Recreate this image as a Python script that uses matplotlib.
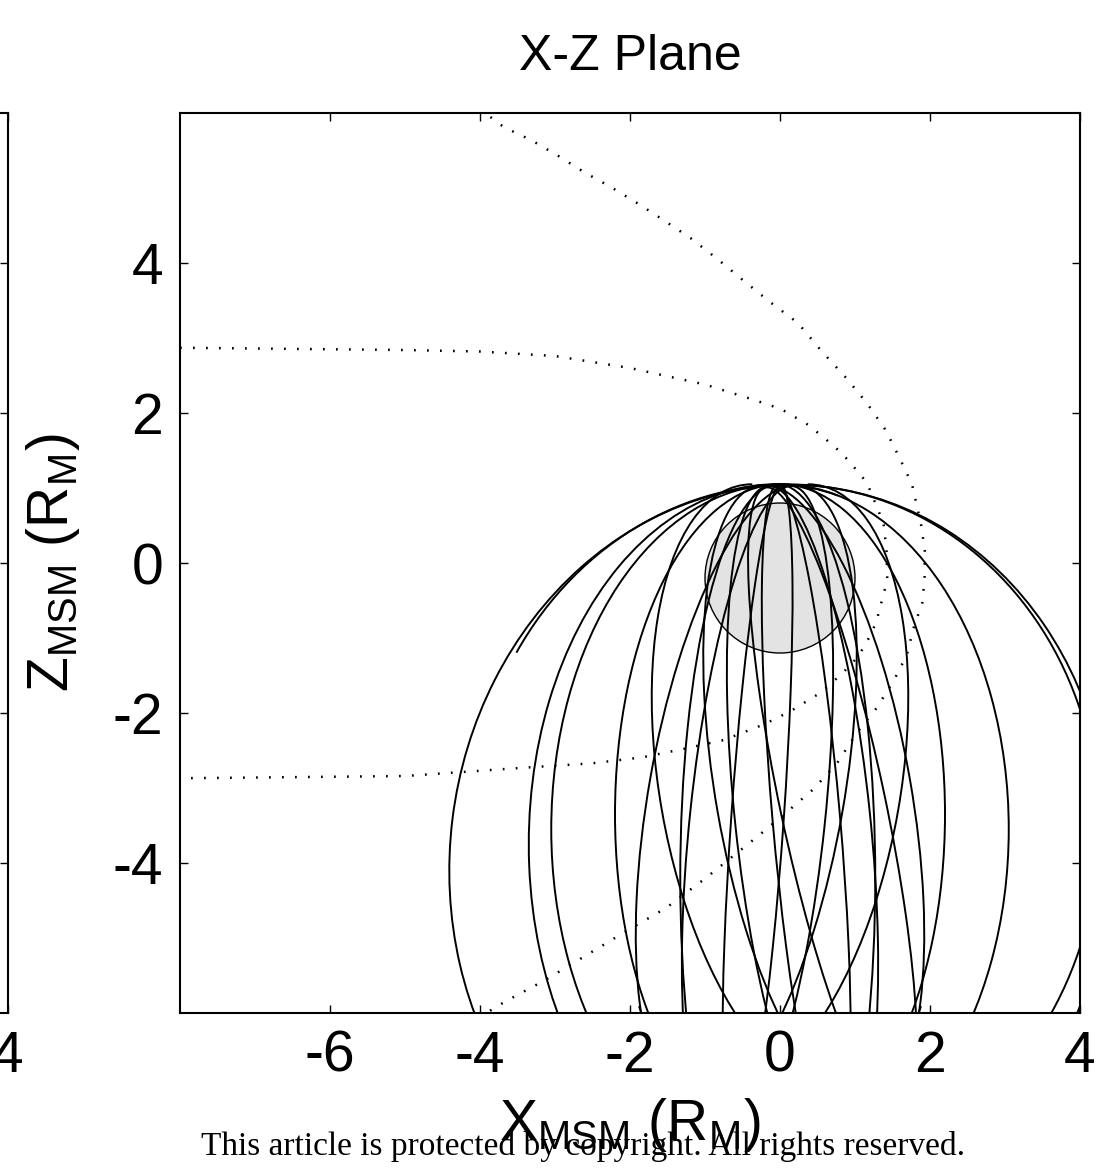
import matplotlib
matplotlib.use("Agg")
from matplotlib import pyplot as plt
from matplotlib.patches import Arc, Circle

plt.rcParams['font.family'] = ['Liberation Sans', 'DejaVu Sans']
plt.rcParams['mathtext.fontset'] = 'custom'
plt.rcParams['mathtext.rm'] = 'Liberation Sans'
plt.rcParams['mathtext.it'] = 'Liberation Sans'
plt.rcParams['axes.unicode_minus'] = False

# spacecraft orbits projected on X-Z (centre x, centre z, width, height, tilt deg, drawn part deg)
orbit_xc = [0.00, 0.05, -0.05, 0.00, -0.03, 0.20, -0.20, 0.00, 0.45, -0.45, 0.30, -0.30, 0.35, -0.30, 0.70]
orbit_zc = [-3.95, -3.60, -3.75, -3.55, -4.20, -3.00, -3.00, -3.35, -3.10, -3.10, -3.40, -3.40, -3.40, -3.40, -3.20]
orbit_w = [8.80, 8.40, 6.60, 6.10, 2.60, 3.60, 3.60, 4.40, 2.60, 2.60, 1.80, 1.80, 0.90, 0.70, 1.40]
orbit_h = [10.00, 9.30, 9.60, 9.20, 10.50, 8.20, 8.20, 8.80, 8.40, 8.40, 8.90, 8.90, 8.90, 8.90, 8.60]
orbit_tilt = [-7, -4, 0, 0, 0, 10, -10, 0, 10, -10, 6, -6, 5, -4, 12]
orbit_t1 = [0, -100, 80, 0, 0, 88, -110, 0, 0, 0, 0, 0, 0, 0, 0]
orbit_t2 = [360, 150, 285, 360, 360, 290, 92, 360, 360, 360, 360, 360, 360, 360, 360]

# model magnetopause (dotted, inner)
mp_x = [-8.0, -6.0, -5.0, -4.0, -3.0, -2.0, -1.0, -0.33, 0.02, 0.38, 0.73, 0.91, 1.16, 1.38, 1.42,
        1.43, 1.29, 1.22, 1.04, 0.86, 0.68, 0.49, 0.15, -0.21, -0.75, -1.29, -1.83, -2.5, -3.43, -5.0, -8.0]
mp_z = [2.87, 2.85, 2.84, 2.82, 2.76, 2.60, 2.38, 2.17, 2.05, 1.84, 1.55, 1.37, 1.07, 0.53, 0.17,
        -0.23, -0.76, -0.94, -1.25, -1.44, -1.61, -1.76, -1.97, -2.15, -2.36, -2.48, -2.59, -2.67, -2.73, -2.84, -2.87]

# model bow shock (dotted, outer)
bs_x = [-4.0, -3.68, -3.32, -2.96, -2.61, -2.25, -1.89, -1.55, -1.19, -0.83, -0.48, -0.12, 0.24, 0.55, 0.88,
        1.16, 1.41, 1.59, 1.76, 1.88, 1.93, 1.93, 1.90, 1.78, 1.69, 1.51, 1.29, 1.02, 0.76, 0.44, 0.08,
        -0.28, -0.99, -1.52, -2.07, -2.60, -3.13, -3.67, -4.0]
bs_z = [6.05, 5.81, 5.64, 5.43, 5.21, 5.01, 4.79, 4.57, 4.33, 4.05, 3.76, 3.47, 3.20, 2.83, 2.47,
        2.13, 1.77, 1.41, 1.05, 0.52, 0.17, -0.16, -0.52, -0.87, -1.23, -1.58, -1.93, -2.27, -2.67, -3.02, -3.33,
        -3.63, -4.20, -4.60, -4.92, -5.24, -5.56, -5.85, -6.05]

planet_center = (0.0, -0.2)
planet_radius = 1.0

xticks = [-6, -4, -2, 0, 2, 4]
yticks = [-4, -2, 0, 2, 4]
FS = 41

fig = plt.figure(figsize=(10.97, 11.71), dpi=100)

# neighbouring panel, only its right edge is in the picture
axl = fig.add_axes([-0.8131, 0.1349, 0.8204, 0.7686])
axl.set_xlim(-8, 4)
axl.set_ylim(-6, 6)
axl.set_xticks(xticks)
axl.set_yticks(yticks)
axl.tick_params(direction='in', length=6, width=1, top=True, right=True, labelsize=FS, pad=12, labelleft=False)
for s in axl.spines.values():
    s.set_linewidth(1.5)

ax = fig.add_axes([0.1641, 0.1349, 0.8204, 0.7686])
ax.add_patch(Circle(planet_center, planet_radius, facecolor='#e3e3e3', edgecolor='k', lw=1.0, zorder=1))
for i in range(len(orbit_xc)):
    ax.add_patch(Arc((orbit_xc[i], orbit_zc[i]), orbit_w[i], orbit_h[i], angle=orbit_tilt[i],
                     theta1=orbit_t1[i], theta2=orbit_t2[i], edgecolor='k', lw=1.4, zorder=2))
ax.plot(mp_x, mp_z, color='k', lw=1.8, linestyle=(0, (0.7, 4.5)), zorder=3)
ax.plot(bs_x, bs_z, color='k', lw=1.8, linestyle=(0, (0.7, 4.5)), zorder=3)

ax.set_xlim(-8, 4)
ax.set_ylim(-6, 6)
ax.set_xticks(xticks)
ax.set_yticks(yticks)
ax.tick_params(direction='in', length=6, width=1, top=True, right=True, labelsize=FS, pad=12)
for s in ax.spines.values():
    s.set_linewidth(1.5)
ax.set_title('X-Z Plane', fontsize=36, pad=31)
ax.set_xlabel(r'$\mathrm{X_{MSM}\ (R_M)}$', fontsize=FS, labelpad=9)
ax.set_ylabel(r'$\mathrm{Z_{MSM}\ (R_M)}$', fontsize=FS, labelpad=22)

fig.text(0.5315, 0.0137, 'This article is protected by copyright. All rights reserved.',
         family=['Liberation Serif', 'DejaVu Serif'], fontsize=24, ha='center', va='baseline')

plt.savefig('out.png', dpi=100)
